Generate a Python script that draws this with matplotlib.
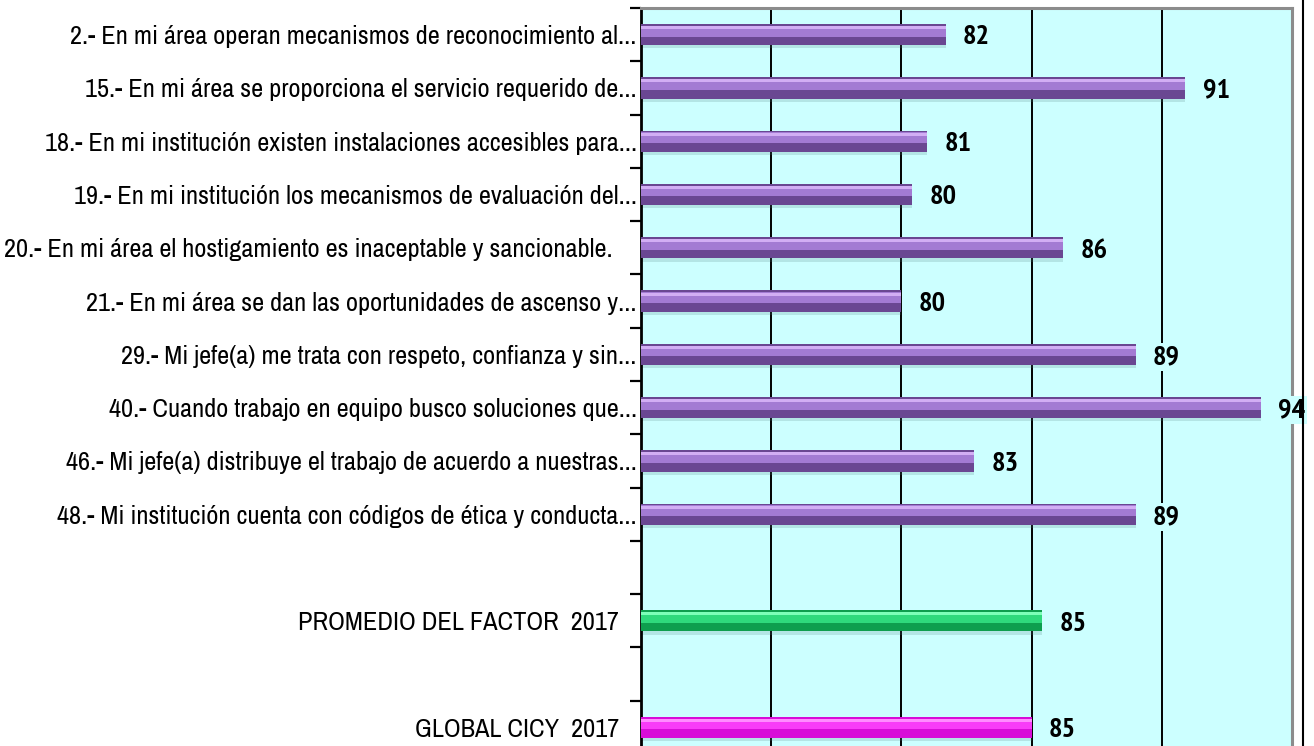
import matplotlib

matplotlib.use("Agg")

import matplotlib.pyplot as plt
import numpy as np
from matplotlib import font_manager as fm
from matplotlib.lines import Line2D

questions = [
    "2.- En mi área operan mecanismos de reconocimiento al...",
    "15.- En mi área se proporciona el servicio requerido de...",
    "18.- En mi institución existen instalaciones accesibles para...",
    "19.- En mi institución los mecanismos de evaluación del...",
    "20.- En mi área el hostigamiento es inaceptable y sancionable.    ",
    "21.- En mi área se dan las oportunidades de ascenso y...",
    "29.- Mi jefe(a) me trata con respeto, confianza y sin...",
    "40.- Cuando trabajo en equipo busco soluciones que...",
    "46.- Mi jefe(a) distribuye el trabajo de acuerdo a nuestras...",
    "48.- Mi institución cuenta con códigos de ética y conducta...",
]
question_values = [81.7, 90.9, 81.0, 80.4, 86.2, 80.0, 89.0, 93.8, 82.8, 89.0]

factor_label = "PROMEDIO DEL FACTOR  2017   "
factor_value = 85.4
global_label = "GLOBAL CICY  2017   "
global_value = 85.0

x_min, x_max = 70, 95
grid_values = [75, 80, 85, 90]

# colour layers: body, upper band, top highlight
purple = ("#6A4792", "#A37BD3", "#D2AEF4")
green = ("#0E9E4E", "#2FD97C", "#7DFFB8")
magenta = ("#D80CD8", "#F83CF8", "#FF8CFF")
plot_bg = "#CCFFFF"


def pick_family(candidates, min_weight=0):
    fonts = fm.fontManager.ttflist
    for name in candidates:
        for f in fonts:
            w = f.weight if isinstance(f.weight, int) else 400
            if f.name == name and w >= min_weight and f.style == "normal":
                return name
    return "DejaVu Sans"


narrow = [
    "Liberation Sans Narrow", "Arial Narrow", "Archivo Narrow", "PT Sans Narrow",
    "Roboto Condensed", "Pragati Narrow", "Open Sans Condensed",
    "IBM Plex Sans Condensed",
]
label_family = pick_family(narrow)
value_family = pick_family(narrow, min_weight=600)

n_q = len(questions)
q_pos = np.arange(n_q)
factor_pos = n_q + 1
global_pos = n_q + 3

positions = list(q_pos) + [factor_pos, global_pos]
values = question_values + [factor_value, global_value]
colors = [purple] * n_q + [green, magenta]

tick_pos = list(q_pos) + [factor_pos, global_pos]
tick_labels = questions + [factor_label, global_label]

fig = plt.figure(figsize=(13.14, 7.46), dpi=100)
W, H = 1314, 746
left_px, right_px, top_px, bottom_px = 641, 1292, 8, 754
ax = fig.add_axes([
    left_px / W,
    (H - bottom_px) / H,
    (right_px - left_px) / W,
    (bottom_px - top_px) / H,
])
ax.set_facecolor(plot_bg)

# size the tick labels so the widest one spans like the reference (~593 px)
renderer = fig.canvas.get_renderer()
probe = fig.text(0, 0, questions[2], family=label_family, fontsize=15)
probe_w = probe.get_window_extent(renderer).width
probe.remove()
label_size = min(19, 15 * 593 / probe_w)

probe = fig.text(0, 0, "82", family=value_family, fontsize=17, fontweight="bold")
value_w = probe.get_window_extent(renderer).width
probe.remove()
value_size = min(21, 17 * 27 / value_w)

bar_h = 0.40
for pos, val, (body, band, top) in zip(positions, values, colors):
    width = val - x_min
    ax.barh(pos + 0.06, width, height=bar_h, left=x_min, color="#4f7f80",
            alpha=0.2, zorder=2)
    ax.barh(pos, width, height=bar_h, left=x_min, color=body, zorder=3)
    ax.barh(pos - bar_h * 0.16, width, height=bar_h * 0.5, left=x_min,
            color=band, zorder=4)
    ax.barh(pos - bar_h * 0.33, width, height=bar_h * 0.14, left=x_min,
            color=top, zorder=5)
    ax.annotate(f"{val:.0f}", xy=(val, pos), xytext=(12.5, -2),
                textcoords="offset points", ha="left", va="center",
                fontsize=value_size, fontweight="bold", family=value_family,
                color="black", annotation_clip=False, zorder=6,
                bbox=dict(facecolor=plot_bg, edgecolor="none", pad=1.5))

ax.set_xlim(x_min, x_max)
ax.set_ylim(global_pos + 0.5, -0.5)

for g in grid_values:
    ax.axvline(g, color="black", linewidth=1.4, zorder=1)

ax.set_xticks([])
ax.set_yticks(tick_pos)
ax.set_yticklabels(tick_labels, fontsize=label_size, family=label_family)
ax.set_yticks(np.arange(-0.5, global_pos + 1), minor=True)
ax.tick_params(axis="y", which="major", length=0, pad=3)
ax.tick_params(axis="y", which="minor", length=8, width=1.6, direction="out",
               color="black")

ax.spines["left"].set_color("black")
ax.spines["left"].set_linewidth(2)
for side in ("top", "right", "bottom"):
    ax.spines[side].set_color("#8c8c8c")
    ax.spines[side].set_linewidth(2.2)

fig.add_artist(Line2D([1303 / W, 1303 / W], [0, 1], color="black",
                      linewidth=1.5, transform=fig.transFigure))

fig.savefig("out.png", dpi=100, facecolor="white")
